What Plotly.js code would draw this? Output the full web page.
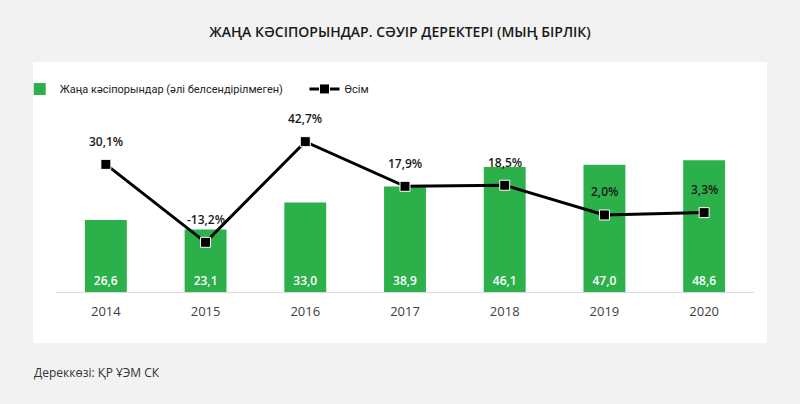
<!DOCTYPE html>
<html>
<head>
<meta charset="utf-8">
<script src="https://cdn.plot.ly/plotly-3.0.1.min.js"></script>
<style>html,body{margin:0;padding:0;background:#f2f2f2;}#chart{width:800px;height:404px;}</style>
</head>
<body>
<div id="chart"></div>
<script>
const years = ['2014','2015','2016','2017','2018','2019','2020'];
const enterprises = [26.6, 23.1, 33.0, 38.9, 46.1, 47.0, 48.6];
const growth = [30.1, -13.2, 42.7, 17.9, 18.5, 2.0, 3.3];
const barName = 'Жаңа кәсіпорындар (әлі белсендірілмеген)';
const lineName = 'Өсім';
const titleText = 'ЖАҢА КӘСІПОРЫНДАР. СӘУІР ДЕРЕКТЕРІ (МЫҢ БІРЛІК)';
const sourceText = 'Дереккөзі: ҚР ҰЭМ СК';

const fmt = v => v.toFixed(1).replace('.', ',');
const FONT = 'Open Sans, Liberation Sans, sans-serif';
const LEGFONT = 'Roboto, Open Sans, sans-serif';

const traces = [
  {
    type: 'bar', x: years, y: enterprises, name: barName, legend: 'legend',
    marker: {color: '#2bb04a'},
    text: enterprises.map(fmt), textposition: 'inside', insidetextanchor: 'start',
    textfont: {color: '#ffffff', size: 12, family: FONT, weight: 600},
    hoverinfo: 'skip'
  },
  {
    type: 'scatter', mode: 'lines+markers', x: years, y: growth, name: lineName, yaxis: 'y2', legend: 'legend2',
    line: {color: '#000000', width: 3},
    marker: {symbol: 'square', size: 10, color: '#000000', line: {color: '#ffffff', width: 1}},
    hoverinfo: 'skip'
  }
];

const annotations = growth.map((g, i) => ({
  x: years[i], y: g, xref: 'x', yref: 'y2', text: fmt(g) + '%', showarrow: false,
  yshift: 23, font: {size: 12, color: '#1a1a1a', family: FONT, weight: 600}
}));
annotations.push({
  xref: 'paper', yref: 'paper', x: -0.034, y: -0.364, xanchor: 'left', yanchor: 'middle',
  text: sourceText, showarrow: false, font: {size: 12, color: '#333333', family: FONT}
});

const legCommon = {orientation: 'h', xanchor: 'left', y: 0.923, yanchor: 'middle',
  bgcolor: 'rgba(0,0,0,0)', font: {size: 11, color: '#222222', family: LEGFONT}};

const layout = {
  width: 800, height: 404,
  margin: {l: 56, r: 46, t: 72, b: 112},
  paper_bgcolor: '#f2f2f2', plot_bgcolor: '#ffffff',
  font: {family: FONT, color: '#222222'},
  title: {text: titleText, x: 0.5, xanchor: 'center', y: 0.92, yref: 'container', yanchor: 'middle',
          font: {size: 14, color: '#1a1a1a', family: FONT, weight: 600}},
  bargap: 0.58,
  xaxis: {showline: true, linecolor: '#d9d9d9', linewidth: 1, ticks: '', showgrid: false,
          ticklabelstandoff: 7,
          tickfont: {size: 13, color: '#404040', family: FONT}, fixedrange: true},
  yaxis: {visible: false, range: [0, 81.2], fixedrange: true},
  yaxis2: {visible: false, overlaying: 'y', range: [-40.8, 81.4], fixedrange: true},
  showlegend: true,
  legend: Object.assign({}, legCommon, {x: -0.052}),
  legend2: Object.assign({}, legCommon, {x: 0.356}),
  shapes: [{type: 'rect', xref: 'paper', yref: 'paper', x0: -0.033, x1: 1.0186, y0: -0.232, y1: 1.045,
            fillcolor: '#ffffff', line: {width: 0}, layer: 'below'}],
  annotations: annotations
};

Plotly.newPlot('chart', traces, layout, {displayModeBar: false, staticPlot: true});
</script>
</body>
</html>
